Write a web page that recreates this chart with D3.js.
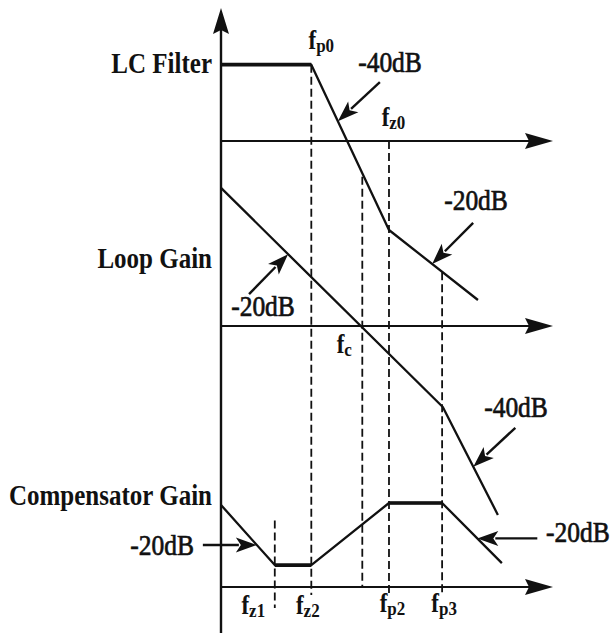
<!DOCTYPE html>
<html><head><meta charset="utf-8">
<script src="https://cdn.jsdelivr.net/npm/d3@7"></script>
<style>
html,body{margin:0;padding:0;background:#fff;}
svg{display:block;}
text{font-family:"Liberation Serif","Times New Roman",serif;fill:#111;}
</style></head>
<body>
<svg id="chart" width="614" height="633"></svg>
<script>
// ---- data (x: log10 frequency, decades from origin; y: gain in dB relative to each panel axis) ----
const lcFreq   = [0, 1.36, 2.53, 3.87];
const lcGain   = [23, 23, -26.8, -47.9];
const loopFreq = [0, 3.34, 4.17];
const loopGain = [41.6, -24.4, -56.9];
const compFreq = [0, 0.81, 1.36, 2.53, 3.33, 4.23];
const compGain = [24.7, 6.6, 6.6, 25.3, 25.3, 7.2];

const panelNames = ["LC Filter", "Loop Gain", "Compensator Gain"];
const slopeLabels = ["-40dB", "-20dB", "-20dB", "-40dB", "-20dB", "-20dB"];

// corner frequencies (decades)
const fz1 = 0.81, fz2 = 1.36, fp0 = 1.36, fc = 2.128, fz0 = 2.53, fp2 = 2.53, fp3 = 3.33;
const freqSubs = ["p0", "z0", "c", "z1", "z2", "p2", "p3"];
const freqVals = [fp0, fz0, fc, fz1, fz2, fp2, fp3];

// ---- layout ----
const svg = d3.select("#chart");
const x = d3.scaleLinear().domain([0, 5]).range([221, 553]);
const axisY = [141, 326, 587];
const pxPerDb = 3.32;
const yScales = axisY.map(a => d3.scaleLinear().domain([0, 20]).range([a, a - 20 * pxPerDb]));
const [yLC, yLoop, yComp] = yScales;
const ink = "#111";

// dashed guides: frequency, panel scale for top, top dB, px below comp axis
const guides = [
  {f: fz1, ys: yComp, top: 20,   below: 21},
  {f: fp0, ys: yLC,   top: 23,   below: 8},
  {f: fc,  ys: yLC,   top: -10.8, below: 0},
  {f: fz0, ys: yLC,   top: 0,    below: 6},
  {f: fp3, ys: yLC,   top: -39.5, below: 6}
];
svg.append("g").selectAll("line").data(guides).join("line")
  .attr("x1", d => x(d.f)).attr("x2", d => x(d.f))
  .attr("y1", d => d.ys(d.top)).attr("y2", d => axisY[2] + d.below)
  .attr("stroke", ink).attr("stroke-width", 1.8).attr("stroke-dasharray", "8,4");

// axes
const xEnd = 5;
svg.append("g").selectAll("line").data(axisY).join("line")
  .attr("x1", x(0)).attr("x2", x(xEnd) - 20)
  .attr("y1", d => d).attr("y2", d => d)
  .attr("stroke", ink).attr("stroke-width", 2.2);
svg.append("g").selectAll("path").data(axisY).join("path")
  .attr("d", d => `M${x(xEnd)},${d} L${x(xEnd) - 28},${d - 8} L${x(xEnd) - 24},${d} L${x(xEnd) - 28},${d + 8} Z`)
  .attr("fill", ink);
svg.append("line").attr("x1", x(0)).attr("x2", x(0)).attr("y1", 30).attr("y2", 633)
  .attr("stroke", ink).attr("stroke-width", 2.4);
svg.append("path").attr("d", `M${x(0)},8 L${x(0) - 8},34 L${x(0)},30 L${x(0) + 8},34 Z`).attr("fill", ink);

// curves
const line = ys => d3.line().x(d => x(d[0])).y(d => ys(d[1]));
const series = [
  {f: lcFreq, g: lcGain, ys: yLC},
  {f: loopFreq, g: loopGain, ys: yLoop},
  {f: compFreq, g: compGain, ys: yComp}
];
series.forEach(s => {
  const pts = s.f.map((f, i) => [f, s.g[i]]);
  svg.append("path").datum(pts).attr("d", line(s.ys))
    .attr("fill", "none").attr("stroke", ink).attr("stroke-width", 2.3)
    .attr("stroke-linejoin", "round");
  // thicker flat segments
  pts.forEach((p, i) => {
    if (i > 0 && pts[i - 1][1] === p[1]) {
      svg.append("line").attr("x1", x(pts[i - 1][0])).attr("x2", x(p[0]))
        .attr("y1", s.ys(p[1])).attr("y2", s.ys(p[1]))
        .attr("stroke", ink).attr("stroke-width", 3.6);
    }
  });
});

// value on a series at frequency f
function valAt(s, f) {
  for (let i = 1; i < s.f.length; i++) {
    if (f <= s.f[i]) {
      const t = (f - s.f[i - 1]) / (s.f[i] - s.f[i - 1]);
      return s.g[i - 1] + t * (s.g[i] - s.g[i - 1]);
    }
  }
  return s.g[s.g.length - 1];
}

// text helper (source art is slightly stretched vertically)
function label(txt, px, py, size, weight, anchor, thick) {
  return svg.append("text")
    .attr("transform", `translate(${px},${py}) scale(1,1.15)`)
    .attr("font-size", size).attr("font-weight", weight)
    .attr("stroke", thick ? ink : "none").attr("stroke-width", thick || 0)
    .attr("text-anchor", anchor).text(txt);
}

// panel names
const nameBase = [73, 268, 505];
panelNames.forEach((n, i) => label(n, 212, nameBase[i], 25, "bold", "end"));

// slope annotations: series index, tip frequency, tail offset, text placement
const notes = [
  {s: 0, f: 1.76, dx: 42, dy: -39, tx: 390, ty: 72, a: "middle"},
  {s: 0, f: 3.18, dx: 41, dy: -41, tx: 476, ty: 210, a: "middle"},
  {s: 1, f: 1.01, dx: -39, dy: 40, tx: 263, ty: 316, a: "middle"},
  {s: 1, f: 3.80, dx: 42, dy: -39, tx: 516, ty: 417, a: "middle"},
  {s: 2, f: 3.86, dx: 60, dy: 0, tx: 546, ty: 542, a: "start"},
  {s: 2, f: 0.54, dx: -54, dy: 0, tx: 194, ty: 555, a: "end"}
];
notes.forEach((n, i) => {
  const s = series[n.s];
  const tipX = x(n.f), tipY = s.ys(valAt(s, n.f));
  const tailX = tipX + n.dx, tailY = tipY + n.dy;
  const ang = Math.atan2(tipY - tailY, tipX - tailX);
  const L = 21, W = 7.5;
  const bx = tipX - L * Math.cos(ang), by = tipY - L * Math.sin(ang);
  svg.append("line").attr("x1", tailX).attr("y1", tailY).attr("x2", bx + 3 * Math.cos(ang)).attr("y2", by + 3 * Math.sin(ang))
    .attr("stroke", ink).attr("stroke-width", 2.4);
  const px = -Math.sin(ang), py = Math.cos(ang);
  svg.append("path")
    .attr("d", `M${tipX},${tipY} L${bx + W * px},${by + W * py} L${bx + 5 * Math.cos(ang)},${by + 5 * Math.sin(ang)} L${bx - W * px},${by - W * py} Z`)
    .attr("fill", ink);
  label(slopeLabels[i], n.tx, n.ty, 25.5, "normal", n.a, 0.6);
});

// frequency labels: offset from guide x, baseline
const fPlace = [
  {dx: 10, y: 49}, {dx: 4.5, y: 126}, {dx: -18, y: 353},
  {dx: -21.5, y: 614}, {dx: -3.5, y: 614}, {dx: 3.5, y: 612}, {dx: 2, y: 612}
];
freqSubs.forEach((sub, i) => {
  const t = svg.append("text")
    .attr("transform", `translate(${x(freqVals[i]) + fPlace[i].dx},${fPlace[i].y}) scale(1,1.15)`)
    .attr("text-anchor", "middle").attr("font-weight", "bold");
  t.append("tspan").attr("font-size", 23).text("f");
  t.append("tspan").attr("font-size", 17).attr("dy", 3).text(sub);
});
</script>
</body></html>
